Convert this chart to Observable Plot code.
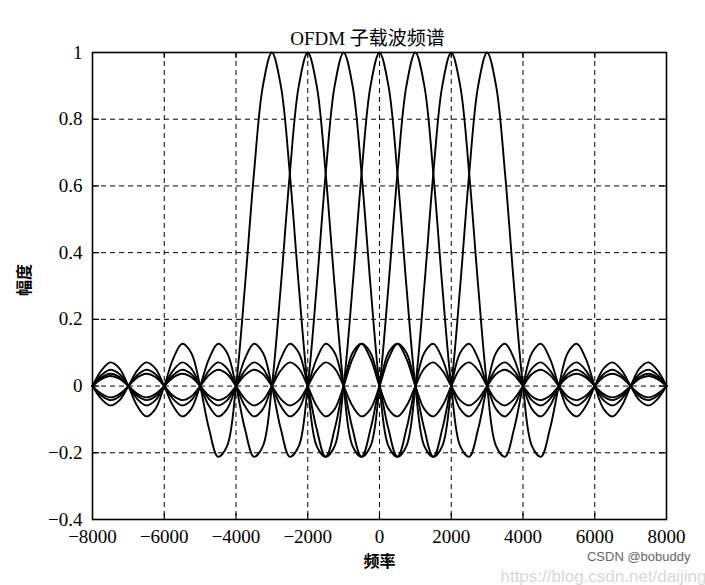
<!DOCTYPE html>
<html>
<head>
<meta charset="utf-8">
<script src="https://cdn.jsdelivr.net/npm/d3@7"></script>
<script src="https://cdn.jsdelivr.net/npm/@observablehq/plot@0.6"></script>
<style>
  html, body { margin: 0; padding: 0; background: #fff; }
</style>
</head>
<body>
<div id="chart"></div>
<script>
// Frequency grid (Hz)
const freq = [-8000,-7750,-7500,-7250,-7000,-6750,-6500,-6250,-6000,-5750,-5500,-5250,-5000,-4750,-4500,-4250,-4000,-3750,-3500,-3250,-3000,-2750,-2500,-2250,-2000,-1750,-1500,-1250,-1000,-750,-500,-250,0,250,500,750,1000,1250,1500,1750,2000,2250,2500,2750,3000,3250,3500,3750,4000,4250,4500,4750,5000,5250,5500,5750,6000,6250,6500,6750,7000,7250,7500,7750,8000];

// Subcarrier centre frequencies (categories)
const carriers = [-3000, -2000, -1000, 0, 1000, 2000, 3000];

// Amplitude of each subcarrier over the frequency grid
const sc1 = [0,0.047,0.071,0.053, 0,-0.06,-0.091,-0.069, 0,0.082,0.127,0.1, 0,-0.129,-0.212,-0.18, 0,0.3,0.637,0.9, 1,0.9,0.637,0.3, 0,-0.18,-0.212,-0.129, 0,0.1,0.127,0.082, 0,-0.069,-0.091,-0.06, 0,0.053,0.071,0.047, 0,-0.043,-0.058,-0.039, 0,0.036,0.049,0.033, 0,-0.031,-0.042,-0.029, 0,0.027,0.037,0.026, 0,-0.024,-0.034,-0.023, 0,0.022,0.03,0.021, 0];
const sc2 = [0,-0.039,-0.058,-0.043, 0,0.047,0.071,0.053, 0,-0.06,-0.091,-0.069, 0,0.082,0.127,0.1, 0,-0.129,-0.212,-0.18, 0,0.3,0.637,0.9, 1,0.9,0.637,0.3, 0,-0.18,-0.212,-0.129, 0,0.1,0.127,0.082, 0,-0.069,-0.091,-0.06, 0,0.053,0.071,0.047, 0,-0.043,-0.058,-0.039, 0,0.036,0.049,0.033, 0,-0.031,-0.042,-0.029, 0,0.027,0.037,0.026, 0,-0.024,-0.034,-0.023, 0];
const sc3 = [0,0.033,0.049,0.036, 0,-0.039,-0.058,-0.043, 0,0.047,0.071,0.053, 0,-0.06,-0.091,-0.069, 0,0.082,0.127,0.1, 0,-0.129,-0.212,-0.18, 0,0.3,0.637,0.9, 1,0.9,0.637,0.3, 0,-0.18,-0.212,-0.129, 0,0.1,0.127,0.082, 0,-0.069,-0.091,-0.06, 0,0.053,0.071,0.047, 0,-0.043,-0.058,-0.039, 0,0.036,0.049,0.033, 0,-0.031,-0.042,-0.029, 0,0.027,0.037,0.026, 0];
const sc4 = [0,-0.029,-0.042,-0.031, 0,0.033,0.049,0.036, 0,-0.039,-0.058,-0.043, 0,0.047,0.071,0.053, 0,-0.06,-0.091,-0.069, 0,0.082,0.127,0.1, 0,-0.129,-0.212,-0.18, 0,0.3,0.637,0.9, 1,0.9,0.637,0.3, 0,-0.18,-0.212,-0.129, 0,0.1,0.127,0.082, 0,-0.069,-0.091,-0.06, 0,0.053,0.071,0.047, 0,-0.043,-0.058,-0.039, 0,0.036,0.049,0.033, 0,-0.031,-0.042,-0.029, 0];
const sc5 = [0,0.026,0.037,0.027, 0,-0.029,-0.042,-0.031, 0,0.033,0.049,0.036, 0,-0.039,-0.058,-0.043, 0,0.047,0.071,0.053, 0,-0.06,-0.091,-0.069, 0,0.082,0.127,0.1, 0,-0.129,-0.212,-0.18, 0,0.3,0.637,0.9, 1,0.9,0.637,0.3, 0,-0.18,-0.212,-0.129, 0,0.1,0.127,0.082, 0,-0.069,-0.091,-0.06, 0,0.053,0.071,0.047, 0,-0.043,-0.058,-0.039, 0,0.036,0.049,0.033, 0];
const sc6 = [0,-0.023,-0.034,-0.024, 0,0.026,0.037,0.027, 0,-0.029,-0.042,-0.031, 0,0.033,0.049,0.036, 0,-0.039,-0.058,-0.043, 0,0.047,0.071,0.053, 0,-0.06,-0.091,-0.069, 0,0.082,0.127,0.1, 0,-0.129,-0.212,-0.18, 0,0.3,0.637,0.9, 1,0.9,0.637,0.3, 0,-0.18,-0.212,-0.129, 0,0.1,0.127,0.082, 0,-0.069,-0.091,-0.06, 0,0.053,0.071,0.047, 0,-0.043,-0.058,-0.039, 0];
const sc7 = [0,0.021,0.03,0.022, 0,-0.023,-0.034,-0.024, 0,0.026,0.037,0.027, 0,-0.029,-0.042,-0.031, 0,0.033,0.049,0.036, 0,-0.039,-0.058,-0.043, 0,0.047,0.071,0.053, 0,-0.06,-0.091,-0.069, 0,0.082,0.127,0.1, 0,-0.129,-0.212,-0.18, 0,0.3,0.637,0.9, 1,0.9,0.637,0.3, 0,-0.18,-0.212,-0.129, 0,0.1,0.127,0.082, 0,-0.069,-0.091,-0.06, 0,0.053,0.071,0.047, 0];

// Ticks
const xTicks = [-8000,-6000,-4000,-2000,0,2000,4000,6000,8000];
const yTicks = [-0.4,-0.2,0,0.2,0.4,0.6,0.8,1];
const xGrid = [-6000,-4000,-2000,0,2000,4000,6000];
const yGrid = [-0.2,0,0.2,0.4,0.6,0.8];

const titleText = "OFDM 子载波频谱";
const xLabel = "频率";
const yLabel = "幅度";

const series = [sc1, sc2, sc3, sc4, sc5, sc6, sc7];
const data = [];
series.forEach((arr, k) => arr.forEach((v, i) => data.push({f: freq[i], a: v, carrier: carriers[k]})));

const minus = d => (d < 0 ? "\u2212" + Math.abs(d) : String(d));
const cjk = "'Noto Sans CJK SC', sans-serif";

const chart = Plot.plot({
  width: 705,
  height: 585,
  marginLeft: 92,
  marginRight: 39,
  marginTop: 52,
  marginBottom: 66,
  style: {fontFamily: "'Liberation Serif', serif", fontSize: "19px", color: "#000", background: "#fff"},
  x: {domain: [-8000, 8000]},
  y: {domain: [-0.4, 1]},
  marks: [
    Plot.gridX(xGrid, {stroke: "#000", strokeOpacity: 1, strokeWidth: 1, strokeDasharray: "5,4"}),
    Plot.gridY(yGrid, {stroke: "#000", strokeOpacity: 1, strokeWidth: 1, strokeDasharray: "5,4"}),
    Plot.ruleX(xGrid, {x: d => d, y1: -0.4, y2: -0.382, stroke: "#000", strokeWidth: 1.2}),
    Plot.ruleX(xGrid, {x: d => d, y1: 1, y2: 0.982, stroke: "#000", strokeWidth: 1.2}),
    Plot.ruleY(yGrid, {y: d => d, x1: -8000, x2: -7800, stroke: "#000", strokeWidth: 1.2}),
    Plot.ruleY(yGrid, {y: d => d, x1: 8000, x2: 7800, stroke: "#000", strokeWidth: 1.2}),
    Plot.line(data, {x: "f", y: "a", z: "carrier", stroke: "#000", strokeWidth: 1.9, curve: "catmull-rom"}),
    Plot.frame({stroke: "#000", strokeWidth: 1.6}),
    Plot.axisX({ticks: xTicks, tickSize: 0, tickPadding: 10, tickFormat: minus, label: null}),
    Plot.axisY({ticks: yTicks, tickSize: 0, tickPadding: 10, tickFormat: minus, label: null}),
    Plot.text([titleText], {frameAnchor: "top", dx: -12, dy: -21, fontSize: 19, fontFamily: "'Liberation Serif', 'Noto Sans CJK SC', serif", fill: "#000"}),
    Plot.text([xLabel], {frameAnchor: "bottom", dy: 47, fontSize: 16, fontWeight: "bold", fontFamily: cjk, fill: "#000"}),
    Plot.text([yLabel], {frameAnchor: "left", dx: -68, dy: 10, rotate: -90, fontSize: 16, fontWeight: "bold", fontFamily: cjk, fill: "#000"}),
    Plot.text(["https://blog.csdn.net/daijing"], {frameAnchor: "bottom-right", dx: 40, dy: 62, textAnchor: "end", fontSize: 17, fontFamily: "'Liberation Sans', sans-serif", fill: "#d8d8d8"}),
    Plot.text(["CSDN @bobuddy"], {frameAnchor: "bottom-right", dx: 24, dy: 41, textAnchor: "end", fontSize: 13, fontFamily: "'Liberation Sans', sans-serif", fill: "#666"})
  ]
});
document.getElementById("chart").appendChild(chart);
</script>
</body>
</html>
